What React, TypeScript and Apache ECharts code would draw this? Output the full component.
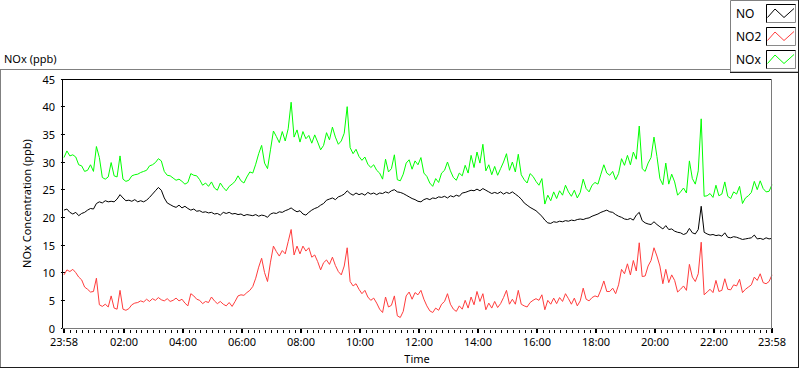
import React, { useEffect, useRef } from 'react';
import * as echarts from 'echarts';

// Time axis: minutes from midnight; the record starts at 23:58 of the previous day (-2)
const START_MINUTE = -2;
const STEP_MINUTES = 6;
const X_MIN = -6;
const X_MAX = 1438;

const majorTickMinutes = [-2, 120, 240, 360, 480, 600, 720, 840, 960, 1080, 1200, 1320, 1438];
const majorTickLabels = ['23:58', '02:00', '04:00', '06:00', '08:00', '10:00', '12:00', '14:00', '16:00', '18:00', '20:00', '22:00', '23:58'];

const seriesNames = ['NO', 'NO2', 'NOx'];
const seriesColors = ['#000000', '#ff3c3c', '#00ff00'];

const noValues = [
  21.3, 21.5, 20.9, 20.6, 20.9, 20.3, 20.7, 20.9, 21.3, 21.6,
  21.5, 22.5, 22.8, 22.6, 23.0, 22.8, 22.9, 22.8, 23.3, 24.1,
  23.5, 23.0, 23.1, 22.9, 23.2, 22.8, 23.0, 22.8, 23.1, 23.6,
  24.2, 24.8, 25.4, 24.9, 23.5, 22.6, 22.3, 22.0, 21.8, 22.2,
  21.7,
  22.0, 21.6, 21.3, 21.5, 21.1, 21.2, 20.9, 21.0, 20.8, 20.9,
  20.6, 20.7, 20.4, 20.9, 20.7, 20.9, 20.6, 20.7, 20.5, 20.6,
  20.3, 20.5, 20.4, 20.3, 20.5, 20.2, 20.4, 20.3, 20.0, 20.6,
  20.8, 20.7, 21.0, 20.9, 21.2, 21.4, 21.7, 21.3, 21.0, 21.2,
  20.6, 20.4, 20.9, 21.3, 21.6, 21.8, 22.2, 22.5, 23.1, 23.3,
  23.5, 23.2, 23.7, 23.9, 24.2, 24.8, 24.3, 24.0, 24.4, 24.1,
  24.3, 24.0, 24.5, 24.2, 24.4, 24.1, 24.4, 24.3, 24.6, 24.4,
  24.8, 25.0, 24.6, 24.5, 24.3, 24.0, 23.7, 23.4, 23.2, 22.9,
  22.8, 23.2, 23.4, 23.2, 23.5, 23.4, 23.7, 23.6, 23.8, 23.5,
  23.9, 23.7, 24.0, 23.8, 24.4, 24.5, 24.7, 24.9, 24.8, 25.1,
  24.8, 25.2, 24.9, 24.6, 24.3, 24.5, 24.3, 24.6, 24.2, 24.5,
  24.3, 24.6, 24.2, 23.8, 23.3, 22.6, 22.2, 21.8, 21.5, 21.2,
  20.7, 20.2, 19.5, 19.0, 18.9, 19.2, 19.1, 19.3, 19.2, 19.4,
  19.3, 19.5, 19.4, 19.6, 19.7, 19.6, 19.8, 19.9, 20.2, 20.4,
  20.6, 20.9, 21.1, 21.3, 21.0, 20.9, 20.5, 20.2, 20.0, 19.7,
  19.6, 19.8, 19.5, 20.4, 20.9, 19.4, 19.0, 18.8, 18.7, 19.2,
  18.7, 18.3, 17.9, 18.5, 17.8, 17.9, 17.5, 17.3, 17.2, 16.9,
  17.1, 18.0, 17.2, 17.0, 17.8, 22.0, 17.3, 17.0, 16.8, 16.9,
  16.7, 16.8, 16.6, 17.2, 16.4, 16.3, 16.5, 16.4, 16.2, 16.0,
  16.1, 16.2, 16.3, 16.8, 16.1, 16.2, 16.0, 16.3, 16.1, 16.2,
];

const no2Values = [
  9.6, 10.5, 10.2, 10.6, 10.0, 9.2, 8.7, 7.4, 7.0, 6.5,
  6.6, 9.0, 4.2, 3.9, 4.3, 3.8, 5.8, 3.6, 3.4, 6.8,
  3.4, 3.2, 3.5, 4.2, 4.5, 4.6, 4.9, 4.7, 5.2, 4.8,
  5.3, 5.0, 5.5, 5.1, 4.9, 5.3, 4.8, 5.0, 5.4, 4.9,
  5.2,
  4.5, 4.0, 6.2, 5.8, 5.2, 5.0, 4.4, 4.8, 4.6, 5.6,
  4.9, 4.4, 4.8, 4.3, 4.0, 4.6, 3.9, 4.8, 5.8, 6.0,
  5.9, 6.4, 6.8, 7.5, 9.0, 11.0, 12.6, 10.0, 8.4, 11.9,
  14.8, 13.8, 13.0, 14.0, 13.4, 15.6, 17.8, 13.2, 14.8, 13.4,
  14.8, 13.9, 14.5, 12.8, 13.2, 12.0, 10.5, 11.8, 12.3, 11.5,
  12.8, 11.3, 10.2, 9.6, 11.2, 14.5, 8.4, 7.6, 8.0, 7.0,
  6.2, 6.8, 5.6, 5.0, 5.4, 4.5, 3.4, 2.8, 5.6, 3.8,
  4.1, 5.8, 2.2, 1.9, 3.0, 5.8, 6.5, 5.2, 6.4, 6.0,
  6.8, 5.2, 4.0, 3.1, 2.8, 3.6, 3.2, 4.3, 4.8, 6.2,
  4.3, 3.4, 3.0, 4.0, 3.4, 5.0, 3.6, 5.6, 4.2, 6.6,
  4.8, 6.2, 3.3, 4.5, 3.6, 4.8, 3.7, 4.4, 5.5, 6.8,
  4.3, 5.2, 4.3, 6.8, 4.3, 4.0, 3.8, 4.6, 5.0, 5.3,
  5.0, 6.0, 3.3, 5.0, 4.3, 5.4, 4.4, 5.5, 4.8, 6.2,
  5.3, 4.3, 5.4, 4.0, 4.9, 7.2, 5.2, 4.9, 5.5, 5.8,
  5.6, 6.9, 8.5, 6.6, 6.6, 7.2, 6.2, 7.8, 10.6, 9.8,
  11.6, 9.6, 12.2, 10.3, 15.4, 9.3, 9.4, 11.2, 12.2, 14.5,
  13.0, 11.2, 8.0, 10.6, 8.2, 9.6, 8.6, 6.5, 7.0, 7.6,
  6.8, 11.5, 9.2, 8.4, 9.8, 15.5, 6.0, 6.5, 7.0, 6.4,
  8.6, 6.6, 6.8, 8.9, 7.0, 6.9, 7.8, 7.6, 8.8, 6.4,
  7.0, 7.4, 7.8, 9.2, 8.6, 9.8, 8.2, 8.0, 8.4, 9.6,
];

const noxValues = [
  30.8, 32.0, 31.1, 31.3, 30.9, 29.5, 29.3, 28.3, 28.5, 29.5,
  28.3, 32.8, 30.8, 27.2, 26.9, 27.3, 29.9, 27.5, 27.3, 31.1,
  26.9, 26.5, 26.7, 27.5, 27.7, 27.8, 28.1, 28.3, 28.5, 29.3,
  29.5, 29.9, 30.6, 30.2, 28.3, 27.6, 27.5, 27.1, 26.7, 26.9,
  26.5,
  26.0, 26.3, 27.9, 27.6, 27.5, 26.8, 25.8, 26.2, 25.6, 26.4,
  25.3, 24.9, 26.2, 25.4, 24.8, 25.6, 26.0, 26.5, 27.5, 26.6,
  26.2, 27.3, 28.2, 28.0, 29.6, 31.5, 33.0, 29.8, 28.8, 32.2,
  35.6, 34.6, 33.5, 35.5, 33.8, 36.0, 40.8, 34.5, 35.8, 33.6,
  35.5, 34.2, 34.8, 33.4, 34.9, 33.6, 32.2, 33.0, 35.3, 34.0,
  36.3, 34.5, 33.2, 33.8, 35.2, 40.0, 32.6, 31.5, 32.3, 31.0,
  30.3, 30.9, 29.6, 29.0, 29.5, 28.5, 28.0, 26.9, 30.5, 28.2,
  28.8, 31.3, 26.8, 26.6, 27.8, 29.8, 30.4, 28.7, 30.2, 29.5,
  30.8, 28.0, 27.4, 26.2, 25.6, 27.0, 26.3, 28.0, 28.5, 30.0,
  28.4, 27.2, 26.7, 28.0, 27.5, 29.4, 28.0, 31.2, 29.0, 31.8,
  29.8, 33.2, 28.4, 29.5, 27.7, 29.2, 27.6, 28.8, 30.0, 31.5,
  28.5, 30.0, 28.2, 31.4, 27.7, 26.8, 26.2, 27.9, 27.4, 26.5,
  25.8, 27.0, 22.4, 24.0, 23.0, 24.6, 23.4, 24.8, 24.0, 25.8,
  24.6, 23.8, 24.9, 23.5, 24.5, 26.9, 25.2, 24.6, 25.8, 26.3,
  26.0, 27.8, 29.5, 28.0, 27.6, 28.3, 26.8, 27.9, 30.6, 29.4,
  31.2, 29.5, 31.8, 30.5, 36.5, 28.8, 28.3, 29.8, 30.8, 34.5,
  31.0, 27.0, 25.9, 29.8, 26.0, 27.8, 26.4, 24.0, 24.6, 25.3,
  24.4, 30.2, 27.0, 26.0, 28.4, 37.8, 23.8, 23.9, 24.3, 23.6,
  25.8, 23.9, 24.2, 26.4, 23.8, 23.4, 24.6, 24.2, 25.6, 22.5,
  23.5, 23.9, 24.5, 26.5, 25.0, 26.6, 25.2, 24.6, 24.7, 25.9,
];

const FONT = '"Noto Sans", "DejaVu Sans", sans-serif';

function toPairs(values: number[]) {
  return values.map((v, i) => [START_MINUTE + i * STEP_MINUTES, v]);
}

function minorTicks(): number[] {
  const out: number[] = [];
  for (let j = 0; j < majorTickMinutes.length - 1; j++) {
    const a = majorTickMinutes[j];
    const b = majorTickMinutes[j + 1];
    for (let k = 1; k < 10; k++) out.push(a + ((b - a) * k) / 10);
  }
  return out;
}

function line(x1: number, y1: number, x2: number, y2: number, stroke: string) {
  return { type: 'line', z: 100, silent: true, shape: { x1, y1, x2, y2 }, style: { stroke, lineWidth: 1 } };
}

export default function App() {
  const ref = useRef<HTMLDivElement>(null);

  useEffect(() => {
    if (!ref.current) return;
    const chart = echarts.init(ref.current, undefined, { renderer: 'svg' });

    const legendItems: any[] = [];
    seriesNames.forEach((name, k) => {
      const y0 = 4.5 + 23 * k;
      legendItems.push({
        type: 'text', z: 101, x: 736, y: 13.5 + 23 * k,
        style: { text: name, fill: '#000', font: `12px ${FONT}`, verticalAlign: 'middle' },
      });
      legendItems.push({
        type: 'rect', z: 100, shape: { x: 766.5, y: y0, width: 29, height: 18 },
        style: { fill: '#fff', stroke: '#8a8a8a', lineWidth: 1 },
      });
      legendItems.push(line(766.5, y0, 795.5, y0, '#000'));
      legendItems.push(line(766.5, y0, 766.5, y0 + 18, '#000'));
      legendItems.push({
        type: 'polyline', z: 101,
        shape: { points: [[767.5, y0 + 13], [775, y0 + 4.5], [784, y0 + 13], [794, y0 + 4]] },
        style: { stroke: seriesColors[k], lineWidth: 1, fill: null },
      });
    });

    const option: any = {
      animation: false,
      backgroundColor: '#ffffff',
      textStyle: { fontFamily: FONT },
      grid: { left: 62, right: 28, top: 79, bottom: 41, containLabel: false },
      xAxis: [
        {
          type: 'value', min: X_MIN, max: X_MAX, offset: 2,
          name: 'Time', nameLocation: 'middle', nameGap: 23,
          nameTextStyle: { fontSize: 11, color: '#000', fontFamily: FONT },
          axisLine: { show: false },
          axisTick: { show: true, customValues: majorTickMinutes, length: 5, lineStyle: { color: '#000', width: 2 } },
          axisLabel: {
            show: true, customValues: majorTickMinutes, margin: 6, fontSize: 11, lineHeight: 11, color: '#000', fontFamily: FONT,
            showMinLabel: true, showMaxLabel: true,
            formatter: (v: number) => {
              const idx = majorTickMinutes.indexOf(v);
              return idx >= 0 ? majorTickLabels[idx] : '';
            },
          },
          splitLine: { show: false },
        },
        {
          type: 'value', min: X_MIN, max: X_MAX, offset: 2, position: 'bottom',
          axisLine: { show: false },
          axisTick: { show: true, customValues: minorTicks(), length: 3, lineStyle: { color: '#000', width: 1 } },
          axisLabel: { show: false },
          splitLine: { show: false },
        },
      ],
      yAxis: {
        type: 'value', min: 0, max: 45, interval: 5,
        name: 'NOx Concentration (ppb)', nameLocation: 'middle', nameGap: 24,
        nameTextStyle: { fontSize: 11, color: '#000', fontFamily: FONT },
        axisLine: { show: false },
        axisTick: { show: true, length: 4, lineStyle: { color: '#000' } },
        axisLabel: { margin: 7, fontSize: 11, lineHeight: 11, color: '#000', fontFamily: FONT },
        splitLine: { show: false },
      },
      series: [
        { name: seriesNames[0], type: 'line', data: toPairs(noValues), showSymbol: false, lineStyle: { color: seriesColors[0], width: 1 }, itemStyle: { color: seriesColors[0] } },
        { name: seriesNames[1], type: 'line', data: toPairs(no2Values), showSymbol: false, lineStyle: { color: seriesColors[1], width: 1 }, itemStyle: { color: seriesColors[1] } },
        { name: seriesNames[2], type: 'line', data: toPairs(noxValues), showSymbol: false, lineStyle: { color: seriesColors[2], width: 1 }, itemStyle: { color: seriesColors[2] } },
      ],
      graphic: [
        {
          type: 'text', z: 100, x: 4, y: 58,
          style: { text: 'NOx (ppb)', fill: '#000', font: `11px ${FONT}`, verticalAlign: 'middle' },
        },
        // outer panel frame
        line(0, 69.5, 730, 69.5, '#808080'),
        line(0.5, 69, 0.5, 368, '#808080'),
        line(0, 367.5, 799, 367.5, '#1e1e1e'),
        line(798.5, 72, 798.5, 368, '#1e1e1e'),
        // legend box
        {
          type: 'rect', z: 99, shape: { x: 730.5, y: 0.5, width: 68, height: 71.5 },
          style: { fill: '#fff', stroke: '#808080', lineWidth: 1 },
        },
        line(798.5, 0, 798.5, 72.5, '#1e1e1e'),
        line(730, 72.5, 799, 72.5, '#1e1e1e'),
        ...legendItems,
        // plot frame
        line(62, 79.5, 772, 79.5, '#000'),
        line(62.5, 79, 62.5, 329, '#000'),
        line(62, 328.5, 772, 328.5, '#7a7a7a'),
        line(771.5, 79, 771.5, 329, '#7a7a7a'),
      ],
    };

    chart.setOption(option);
    return () => chart.dispose();
  }, []);

  return (
    <div
      ref={ref}
      style={{ position: 'absolute', left: 0, top: 0, width: 800, height: 369, background: '#fff' }}
    />
  );
}
